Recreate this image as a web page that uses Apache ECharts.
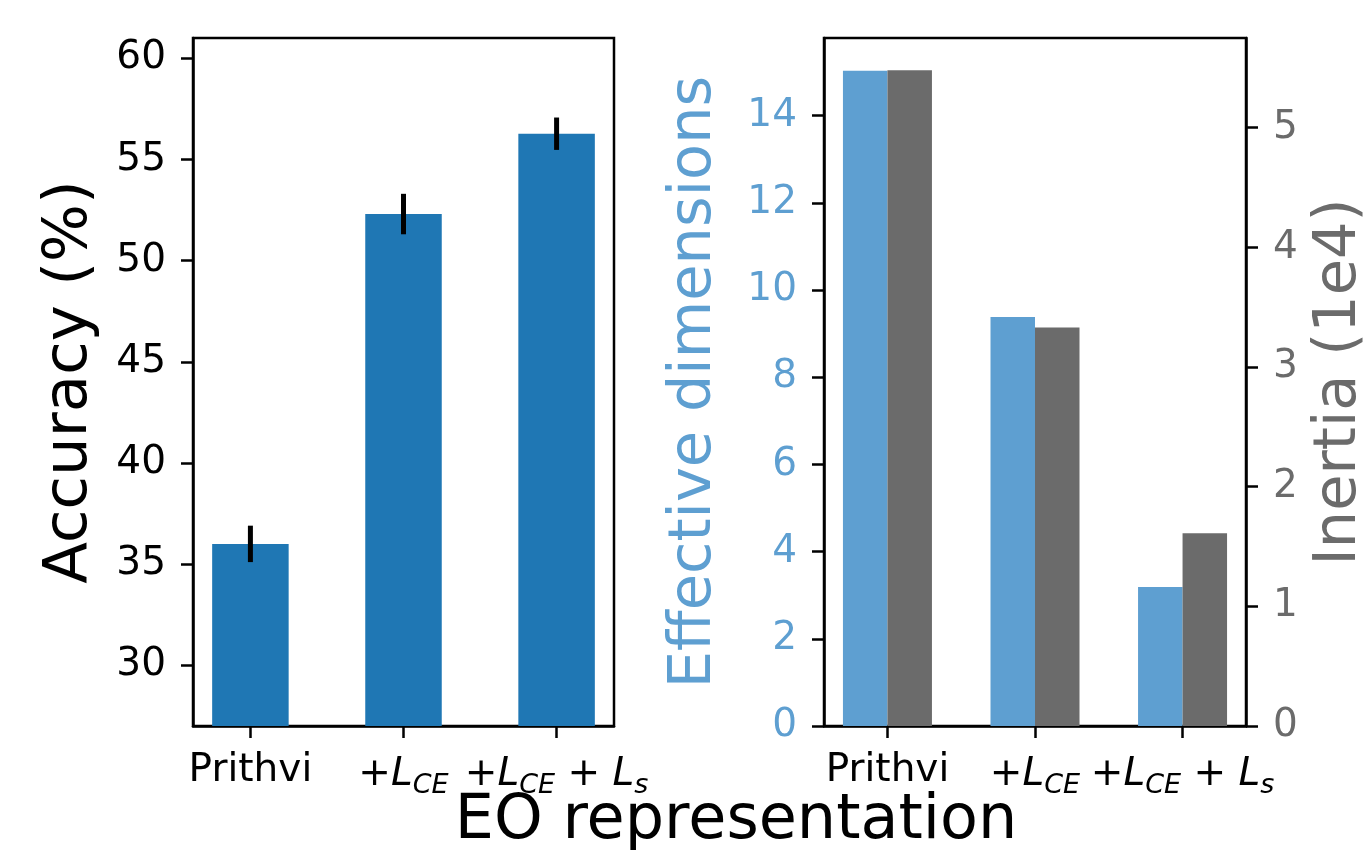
<!DOCTYPE html>
<html>
<head>
<meta charset="utf-8">
<script src="https://cdn.jsdelivr.net/npm/echarts@6/dist/echarts.min.js"></script>
<style>
  html, body { margin: 0; padding: 0; background: #fff; }
  #chart { width: 1370px; height: 850px; }
</style>
</head>
<body>
<div id="chart"></div>
<script>
// categories (rich text labels for matplotlib mathtext)
const categories = ['Prithvi', '+{it|L}{sub|CE}', '+{it|L}{sub|CE} + {it|L}{sub|s}']

// left panel: accuracy with error bars
const accuracy = [36.0, 52.3, 56.27]
const accuracyErr = [0.9, 1.0, 0.8]
const accTicks = [30, 35, 40, 45, 50, 55, 60]

// right panel: effective dimensions and inertia (1e4)
const effDims = [15.03, 9.38, 3.19]
const inertia = [5.48, 3.33, 1.61]
const dimTicks = [0, 2, 4, 6, 8, 10, 12, 14]
const inertiaTicks = [0, 1, 2, 3, 4, 5]

const catIdx = [0, 1, 2]
const FONT = 'DejaVu Sans'
const BLUE_DARK = '#1f77b4'
const BLUE = '#5e9fd1'
const GRAY = '#6b6b6b'
const TICK_FS = 39

const labelRich = {
  it: { fontStyle: 'italic', fontSize: TICK_FS, fontFamily: FONT, color: '#000' },
  sub: { fontStyle: 'italic', fontSize: 27, fontFamily: FONT, color: '#000', padding: [21, 0, 0, 0] }
}

const axisLine = { show: true, onZero: false, lineStyle: { color: '#000', width: 2.5 } }
const axisTick = (vals) => ({ show: true, length: 12, customValues: vals, lineStyle: { color: '#000', width: 2.5 } })

const chart = echarts.init(document.getElementById('chart'))

const option = {
  animation: false,
  backgroundColor: '#fff',
  textStyle: { fontFamily: FONT },
  grid: [
    { left: 193, right: 1370 - 614, top: 38, bottom: 850 - 726, show: true, borderColor: '#000', borderWidth: 2.5, backgroundColor: 'transparent' },
    { left: 824, right: 1370 - 1248, top: 38, bottom: 850 - 726, show: true, borderColor: '#000', borderWidth: 2.5, backgroundColor: 'transparent' }
  ],
  xAxis: [
    {
      type: 'value', gridIndex: 0, min: -0.375, max: 2.375,
      axisLine: axisLine, axisTick: axisTick(catIdx), splitLine: { show: false },
      axisLabel: {
        customValues: catIdx, margin: 25, fontSize: TICK_FS, color: '#000', fontFamily: FONT,
        formatter: (v) => categories[v], rich: labelRich
      }
    },
    {
      type: 'value', gridIndex: 1, min: -0.43, max: 2.43,
      axisLine: axisLine, axisTick: axisTick(catIdx), splitLine: { show: false },
      axisLabel: {
        customValues: catIdx, margin: 25, fontSize: TICK_FS, color: '#000', fontFamily: FONT,
        formatter: (v) => categories[v], rich: labelRich
      }
    }
  ],
  yAxis: [
    {
      type: 'value', gridIndex: 0, min: 27, max: 61,
      name: 'Accuracy (%)', nameLocation: 'middle', nameGap: 92,
      nameTextStyle: { fontSize: 61, color: '#000', fontFamily: FONT },
      axisLine: axisLine, axisTick: axisTick(accTicks), splitLine: { show: false },
      axisLabel: { customValues: accTicks, margin: 27, fontSize: TICK_FS, color: '#000', fontFamily: FONT }
    },
    {
      type: 'value', gridIndex: 1, min: 0, max: 15.78,
      name: 'Effective dimensions', nameLocation: 'middle', nameGap: 100,
      nameTextStyle: { fontSize: 59, color: BLUE, fontFamily: FONT },
      axisLine: axisLine, axisTick: axisTick(dimTicks), splitLine: { show: false },
      axisLabel: { customValues: dimTicks, margin: 27, fontSize: TICK_FS, color: BLUE, fontFamily: FONT }
    },
    {
      type: 'value', gridIndex: 1, position: 'right', min: 0, max: 5.75,
      name: 'Inertia (1e4)', nameLocation: 'middle', nameGap: 64,
      nameTextStyle: { fontSize: 59, color: GRAY, fontFamily: FONT },
      axisLine: axisLine, axisTick: axisTick(inertiaTicks), splitLine: { show: false },
      axisLabel: { customValues: inertiaTicks, margin: 27, fontSize: TICK_FS, color: GRAY, fontFamily: FONT }
    }
  ],
  graphic: [
    {
      type: 'text', x: 736, y: 822,
      style: { text: 'EO representation', fontSize: 62, fontFamily: FONT, fill: '#000', align: 'center', verticalAlign: 'middle' }
    }
  ],
  series: [
    {
      type: 'bar', xAxisIndex: 0, yAxisIndex: 0, barWidth: 76.5,
      itemStyle: { color: BLUE_DARK },
      data: accuracy.map((v, i) => [i, v])
    },
    {
      type: 'custom', xAxisIndex: 0, yAxisIndex: 0, z: 5,
      data: accuracy.map((v, i) => [i, v - accuracyErr[i], v + accuracyErr[i]]),
      encode: { x: 0, y: [1, 2] },
      renderItem: (params, api) => {
        const lo = api.coord([api.value(0), api.value(1)])
        const hi = api.coord([api.value(0), api.value(2)])
        return {
          type: 'line',
          shape: { x1: lo[0], y1: lo[1], x2: hi[0], y2: hi[1] },
          style: { stroke: '#000', lineWidth: 5 }
        }
      }
    },
    {
      type: 'bar', xAxisIndex: 1, yAxisIndex: 1, barWidth: 44.5, barGap: '0%',
      itemStyle: { color: BLUE },
      data: effDims.map((v, i) => [i, v])
    },
    {
      type: 'bar', xAxisIndex: 1, yAxisIndex: 2, barWidth: 44.5, barGap: '0%',
      itemStyle: { color: GRAY },
      data: inertia.map((v, i) => [i, v])
    }
  ]
}

chart.setOption(option)
</script>
</body>
</html>
